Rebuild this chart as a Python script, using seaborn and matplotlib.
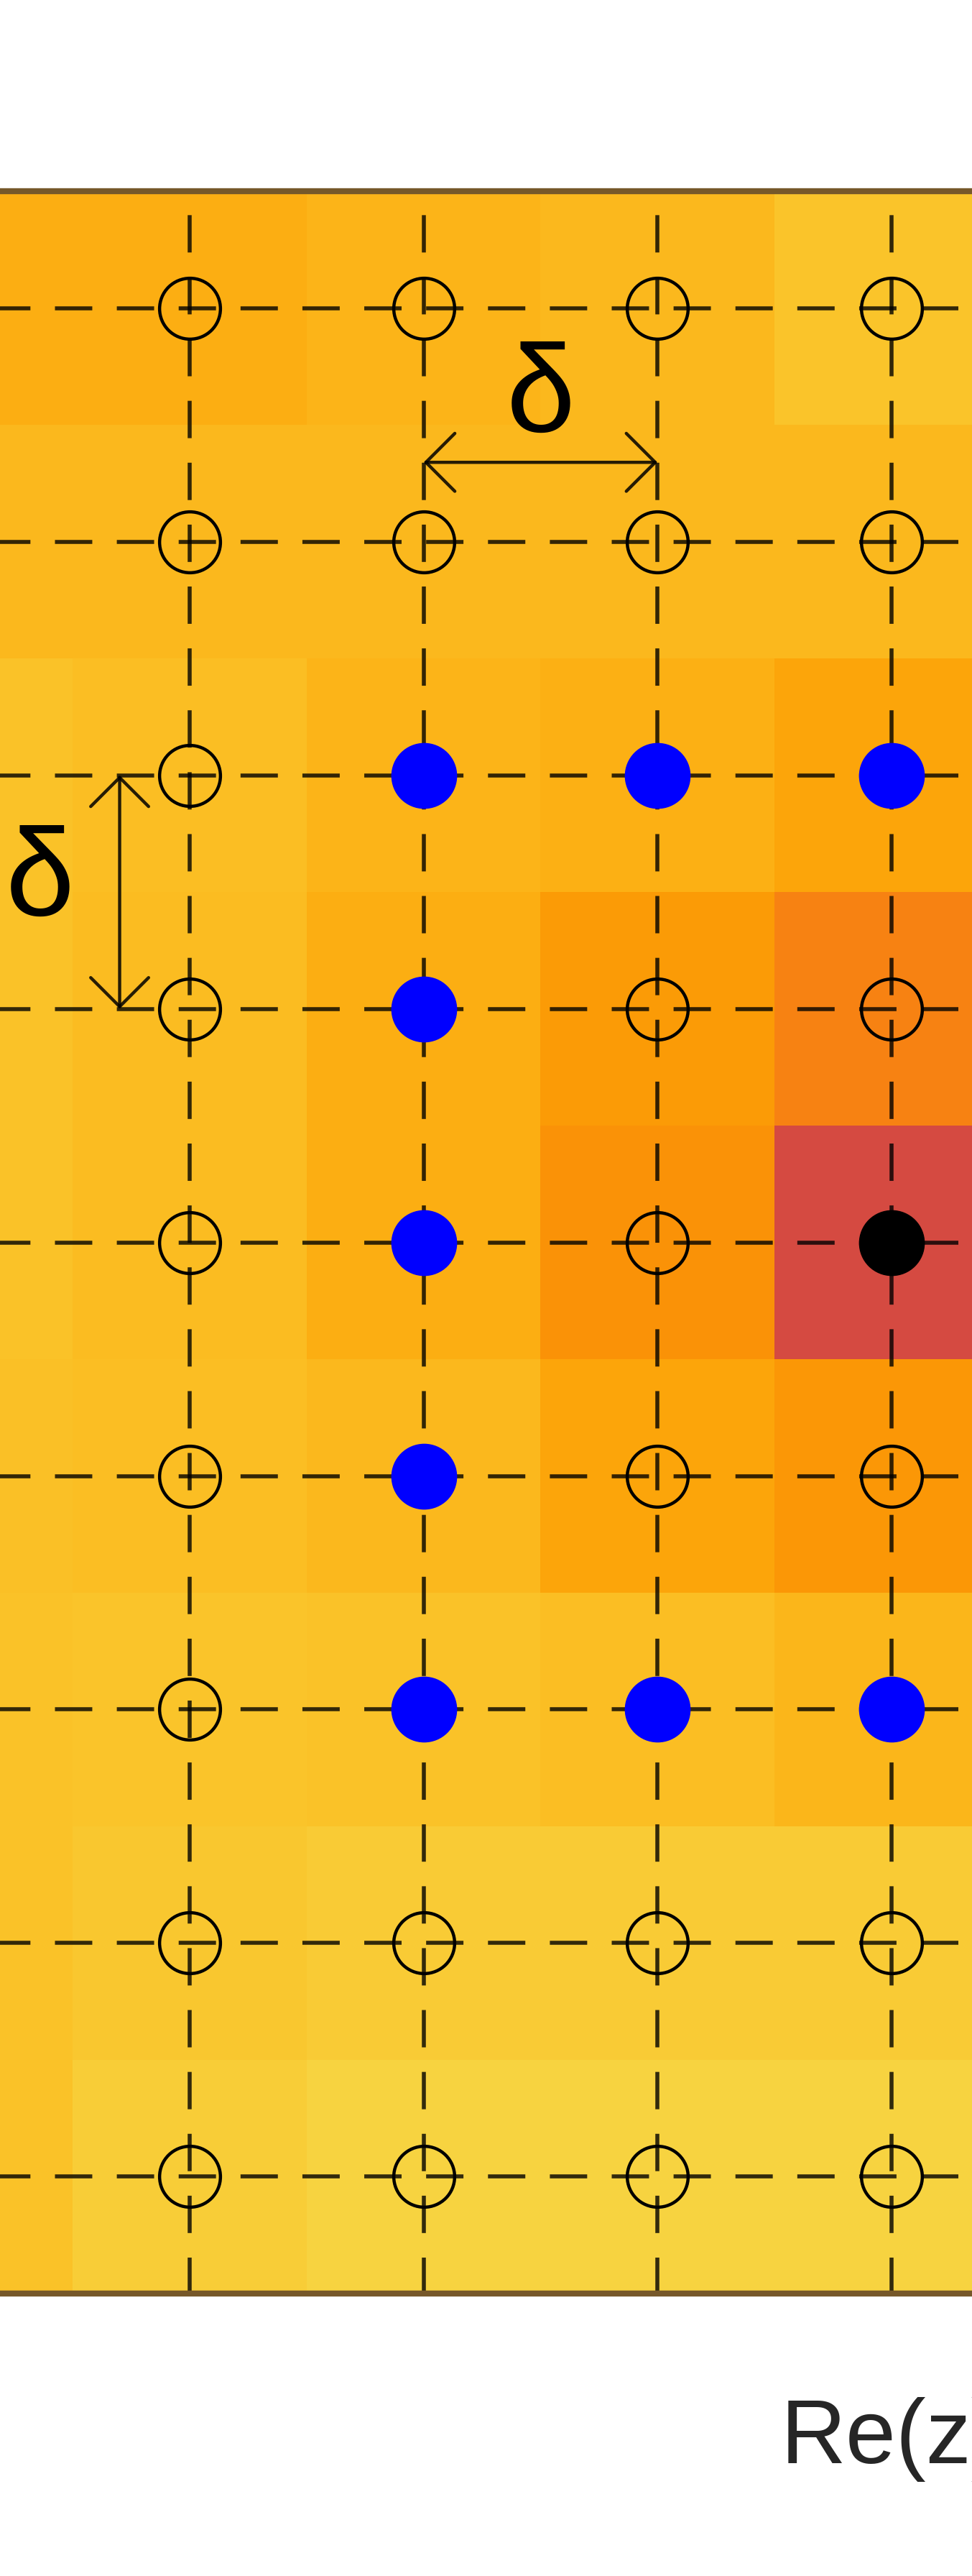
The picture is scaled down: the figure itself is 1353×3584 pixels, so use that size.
import matplotlib.pyplot as plt
import numpy as np
import pandas as pd
import seaborn as sns

# sample grid z = re + i*im, in units of delta, centre point at 0
re_grid = [-4, -3, -2, -1, 0, 1, 2, 3, 4]
im_grid = [4, 3, 2, 1, 0, -1, -2, -3, -4]

# columns of the background field that are in view
re_shown = [-4, -3, -2, -1, 0]

row_im_p4 = [0.818, 0.818, 0.832, 0.838, 0.862]
row_im_p3 = [0.838, 0.838, 0.838, 0.838, 0.838]
row_im_p2 = [0.858, 0.848, 0.832, 0.824, 0.800]
row_im_p1 = [0.858, 0.846, 0.818, 0.778, 0.724]
row_im_0 = [0.858, 0.846, 0.818, 0.758, 0.575]
row_im_m1 = [0.852, 0.850, 0.838, 0.800, 0.771]
row_im_m2 = [0.858, 0.862, 0.856, 0.848, 0.834]
row_im_m3 = [0.856, 0.870, 0.876, 0.876, 0.876]
row_im_m4 = [0.856, 0.880, 0.894, 0.894, 0.894]

# points on the ring at distance 2 (blue) and the centre point (black)
blue_re = [-2, -1, 0, 1, 2, 2, 2, 2, 2, 1, 0, -1, -2, -2, -2, -2]
blue_im = [2, 2, 2, 2, 2, 1, 0, -1, -2, -2, -2, -2, -2, -1, 0, 1]
centre_re = [0]
centre_im = [0]

sns.set_theme(style="ticks")
plt.rcParams['font.family'] = ['Liberation Sans', 'DejaVu Sans']
plt.rcParams['lines.scale_dashes'] = False

fig = plt.figure(figsize=(13.53, 35.84), dpi=100)
ax = fig.add_axes([-0.1656, 0.1097, 2.1652, 0.8160])

field = pd.DataFrame([row_im_p4, row_im_p3, row_im_p2, row_im_p1, row_im_0,
                      row_im_m1, row_im_m2, row_im_m3, row_im_m4],
                     index=im_grid, columns=re_shown)
sns.heatmap(field, cmap='inferno', vmin=0, vmax=1, cbar=False,
            xticklabels=False, yticklabels=False, ax=ax)
ax.set_xlim(0, len(re_grid))
ax.set_ylim(len(im_grid), 0)


# grid value -> heatmap cell centre
def px(re):
    return np.asarray(re, dtype=float) - re_grid[0] + 0.5


def py(im):
    return im_grid[0] - np.asarray(im, dtype=float) + 0.5


# dashed grid lines through the sample points
for r in re_grid:
    ax.axvline(float(px(r)), color='black', alpha=0.8, lw=4.0,
               linestyle=(1.4, (37.4, 24.6)), zorder=2)
for i in im_grid:
    ax.axhline(float(py(i)), color='black', alpha=0.8, lw=4.0,
               linestyle=(6.2, (37.4, 24.6)), zorder=2)

# open circles for all the other sample points
rr, ii = np.meshgrid(re_grid, im_grid)
taken = set(zip(blue_re, blue_im)) | set(zip(centre_re, centre_im))
open_pts = [(r, i) for r, i in zip(rr.ravel(), ii.ravel()) if (r, i) not in taken]
open_re = [p[0] for p in open_pts]
open_im = [p[1] for p in open_pts]
ax.plot(px(open_re), py(open_im), 'o', ms=61, mfc='none', mec='black', mew=3.2, zorder=3)

sns.scatterplot(x=px(blue_re), y=py(blue_im), color='#0000ff', s=66 ** 2,
                linewidth=0, legend=False, ax=ax, zorder=4)
sns.scatterplot(x=px(centre_re), y=py(centre_im), color='black', s=66 ** 2,
                linewidth=0, legend=False, ax=ax, zorder=4)

# delta arrows
arrow = dict(arrowstyle='<->,head_length=29,head_width=29', mutation_scale=1,
             lw=3.2, color='black', alpha=0.85, shrinkA=0, shrinkB=0)
ax.annotate('', xy=(px(-1), py(3.34)), xytext=(px(-2), py(3.34)), arrowprops=arrow, zorder=5)
ax.annotate('', xy=(px(-3.3), py(1)), xytext=(px(-3.3), py(2)), arrowprops=arrow, zorder=5)
ax.text(px(-1.5), py(3.474), 'δ', fontsize=124, ha='center', va='baseline', color='black', zorder=5)
ax.text(px(-3.64), py(1.402), 'δ', fontsize=124, ha='center', va='baseline', color='black', zorder=5)

# frame and ticks
for s in ax.spines.values():
    s.set_visible(True)
    s.set_color('#76582a')
    s.set_linewidth(6)
ax.set_xticks(range(len(re_grid) + 1))
ax.set_yticks(range(len(im_grid) + 1))
ax.tick_params(which='both', direction='in', length=19.4, width=3, color='#262626',
               top=True, bottom=True, left=True, right=True,
               labelbottom=False, labeltop=False, labelleft=False, labelright=False)

# axis title under the axes, centred on the axes
ax.set_xlabel('')
ax.text(0.5, -0.0807, 'Re(z)', transform=ax.transAxes, fontsize=90.5, color='#262626',
        ha='center', va='baseline', clip_on=False)

fig.savefig('out.png', dpi=100, facecolor='white')
